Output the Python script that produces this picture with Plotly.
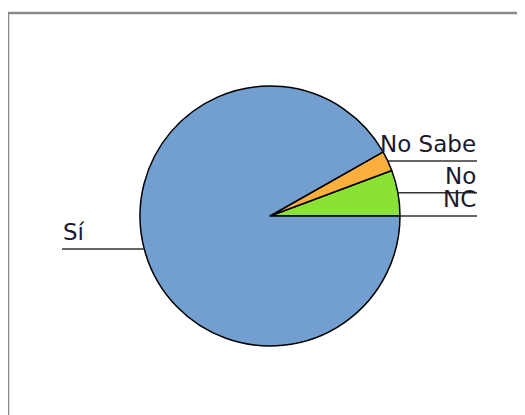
import math
import plotly.graph_objects as go

labels = ["NC", "No", "No Sabe", "Sí"]
values = [0.0, 5.7, 2.5, 91.8]
colors = ["#8ae234", "#8ae234", "#fcaf3e", "#729fcf"]

W, H = 525, 415
OFF = 8  # page body margin
CX, CY, R = 270 - OFF, 216 - OFF, 130  # pie centre / radius in pixels
RIGHT_END, LEFT_END = 477 - OFF, 62 - OFF

def px(x):
    return x / W

def py(y):
    return (H - y) / H

fig = go.Figure(go.Pie(
    labels=labels, values=values, sort=False, direction="counterclockwise",
    rotation=90, textinfo="none", hoverinfo="label+percent",
    marker=dict(colors=colors, line=dict(color="#000000", width=1.5)),
    domain=dict(x=[px(CX - R), px(CX + R)], y=[py(CY + R), py(CY - R)]),
    showlegend=False,
))

shapes = [dict(type="rect", xref="paper", yref="paper",
               x0=px(8 - OFF), x1=1.05, y0=-0.05, y1=py(13 - OFF),
               line=dict(color="#8a8a8a", width=2.5), fillcolor="rgba(0,0,0,0)")]
annotations = []
total = sum(values)
cum = 0.0
for lab, v in zip(labels, values):
    mid = (cum + v / 2) / total * 2 * math.pi
    cum += v
    ex = CX + R * math.cos(mid)
    ey = CY - R * math.sin(mid)
    if math.cos(mid) >= 0:
        x0, x1, tx, anchor = ex, RIGHT_END, RIGHT_END, "right"
    else:
        x0, x1, tx, anchor = LEFT_END, ex, LEFT_END, "left"
    shapes.append(dict(type="line", xref="paper", yref="paper",
                       x0=px(x0), x1=px(x1), y0=py(ey), y1=py(ey),
                       line=dict(color="#333333", width=1.5)))
    annotations.append(dict(text=lab, xref="paper", yref="paper",
                            x=px(tx), y=py(ey - 3), xanchor=anchor, yanchor="bottom",
                            showarrow=False, borderpad=0,
                            font=dict(family="DejaVu Sans", size=23, color="#1a1a2a")))

fig.update_layout(width=W, height=H, margin=dict(l=0, r=0, t=0, b=0),
                  paper_bgcolor="white", plot_bgcolor="white",
                  shapes=shapes, annotations=annotations)
fig.write_html("out.html")
